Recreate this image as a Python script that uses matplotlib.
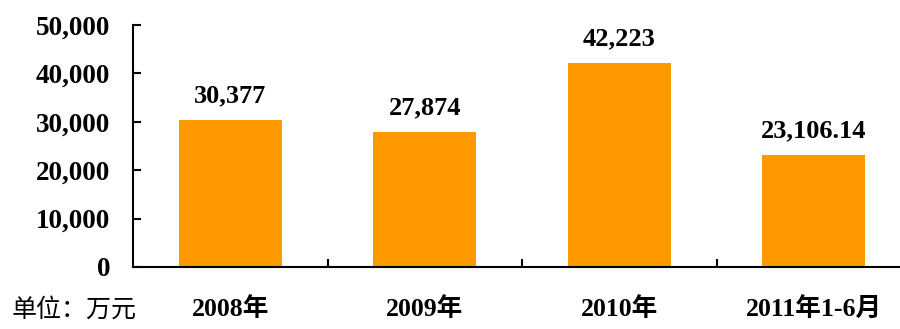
import matplotlib.pyplot as plt
import numpy as np

plt.rcParams['font.family'] = ['Liberation Serif', 'Noto Sans CJK SC']

years = ['2008年', '2009年', '2010年', '2011年1-6月']
income = [30377, 27874, 42223, 23106.14]
decimals = [0, 0, 0, 2]
yticks = [0, 10000, 20000, 30000, 40000, 50000]

fig = plt.figure(figsize=(9, 3.29), dpi=100)
ax = fig.add_axes([133 / 900, 62 / 329, 778 / 900, 242 / 329])

x = np.arange(len(years))
ax.bar(x, income, width=0.53, color='#FF9900')

for xi, v, d in zip(x, income, decimals):
    ax.annotate(f'{v:,.{d}f}', (xi, v), xytext=(0, 9), textcoords='offset points',
                ha='center', va='bottom', fontsize=19, fontweight='bold')

ax.set_xlim(-0.5, 3.5)
ax.set_ylim(0, 50000)
ax.set_yticks(yticks)
ax.set_yticklabels([f'{t:,}' for t in yticks], fontsize=19.5, fontweight='bold')
ax.set_xticks(x)
ax.set_xticklabels(years, fontsize=18.5, fontweight='bold')
ax.set_xticks([0.5, 1.5, 2.5], minor=True)

ax.tick_params(axis='x', which='major', length=0, pad=22)
ax.tick_params(axis='x', which='minor', direction='in', length=6, width=1.5)
ax.tick_params(axis='y', direction='in', length=6, width=1.5, pad=16.5)

for side in ['top', 'right']:
    ax.spines[side].set_visible(False)
for side in ['left', 'bottom']:
    ax.spines[side].set_linewidth(1.5)

fig.text(12 / 900, 6 / 329, '单位：万元', fontsize=18, family='Noto Sans CJK SC',
         va='bottom', ha='left')

fig.savefig('out.png', dpi=100)
